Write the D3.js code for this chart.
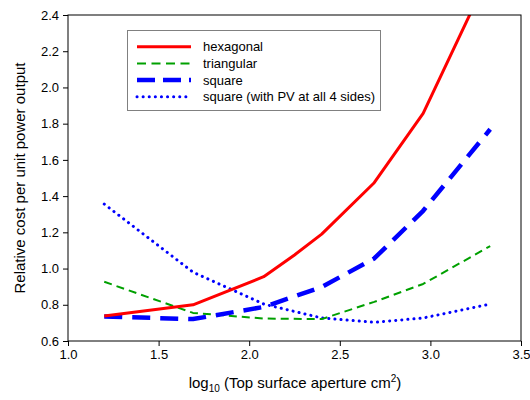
<!DOCTYPE html>
<html><head><meta charset="utf-8">
<script src="https://cdn.jsdelivr.net/npm/d3@7"></script>
<style>body{margin:0;background:#fff}svg{display:block}text{font-family:"Liberation Sans",Arial,sans-serif}</style>
</head><body><svg id="c" width="530" height="400"></svg>
<script>
const xValues = [1.2, 1.69, 2.08, 2.4, 2.69, 2.96, 3.33];
const hexX = [1.2, 1.69, 2.08, 2.25, 2.4, 2.69, 2.96, 3.33];
const hexagonal = [0.738, 0.80, 0.955, 1.075, 1.19, 1.474, 1.857, 2.64];
const triangular = [0.927, 0.755, 0.724, 0.721, 0.816, 0.915, 1.124];
const square = [0.735, 0.721, 0.788, 0.898, 1.056, 1.319, 1.769];
const squarePV = [1.356, 0.98, 0.804, 0.727, 0.703, 0.727, 0.804];
const xTicks = [1.0, 1.5, 2.0, 2.5, 3.0, 3.5];
const yTicks = [0.6, 0.8, 1.0, 1.2, 1.4, 1.6, 1.8, 2.0, 2.2, 2.4];
const legendLabels = ["hexagonal", "triangular", "square", "square (with PV at all 4 sides)"];

const svg = d3.select("#c");
const L = 68, R = 521, T = 15, B = 341;
const x = d3.scaleLinear().domain([1.0, 3.5]).range([L, R]);
const y = d3.scaleLinear().domain([0.6, 2.4]).range([B, T]);

svg.append("defs").append("clipPath").attr("id", "clip")
  .append("rect").attr("x", L).attr("y", T).attr("width", R - L).attr("height", B - T);

const styles = [
  {color: "#ff0000", width: 3, dash: null},
  {color: "#00a000", width: 2, dash: "8,5"},
  {color: "#0000ff", width: 4.5, dash: "18,10"},
  {color: "#0000ff", width: 3, dash: "0.1,6", cap: "round"}
];
const series = [
  hexX.map((v, i) => [v, hexagonal[i]]),
  xValues.map((v, i) => [v, triangular[i]]),
  xValues.map((v, i) => [v, square[i]]),
  xValues.map((v, i) => [v, squarePV[i]])
];
const line = d3.line().x(d => x(d[0])).y(d => y(d[1]));
const g = svg.append("g").attr("clip-path", "url(#clip)");
[3, 1, 2, 0].forEach(i => {
  const s = styles[i];
  g.append("path").attr("d", line(series[i])).attr("fill", "none")
    .attr("stroke", s.color).attr("stroke-width", s.width)
    .attr("stroke-dasharray", s.dash).attr("stroke-linecap", s.cap || "butt")
    .attr("stroke-linejoin", "round");
});

// axes
const xa = svg.append("g").attr("transform", `translate(0,${B})`)
  .call(d3.axisBottom(x).tickValues(xTicks).tickFormat(d3.format(".1f")).tickSize(5).tickPadding(4));
const ya = svg.append("g").attr("transform", `translate(${L},0)`)
  .call(d3.axisLeft(y).tickValues(yTicks).tickFormat(d3.format(".1f")).tickSize(5).tickPadding(4));
[xa, ya].forEach(a => {
  a.select(".domain").remove();
  a.selectAll("text").attr("font-size", 13).attr("fill", "#000").attr("font-family", "Liberation Sans, Arial, sans-serif");
  a.selectAll("line").attr("stroke", "#000");
});
svg.append("rect").attr("x", L).attr("y", T).attr("width", R - L).attr("height", B - T)
  .attr("fill", "none").attr("stroke", "#000").attr("stroke-width", 1);

// legend
const lg = svg.append("g");
lg.append("rect").attr("x", 127.5).attr("y", 30.5).attr("width", 253).attr("height", 80)
  .attr("fill", "#fff").attr("stroke", "#808080").attr("stroke-width", 1);
legendLabels.forEach((lab, i) => {
  const yy = 46.7 + i * 16.7, s = styles[i];
  lg.append("line").attr("x1", 137).attr("x2", 191).attr("y1", yy).attr("y2", yy)
    .attr("stroke", s.color).attr("stroke-width", s.width)
    .attr("stroke-dasharray", i === 1 ? "9,5.5" : (i === 2 ? "18,8" : s.dash))
    .attr("stroke-linecap", s.cap || "butt");
  lg.append("text").attr("x", 203).attr("y", yy + 4.5).attr("font-size", 13).text(lab);
});

// axis titles
svg.append("text").attr("transform", "translate(25,178) rotate(-90)").attr("text-anchor", "middle")
  .attr("font-size", 15).text("Relative cost per unit power output");
const xt = svg.append("text").attr("x", 295).attr("y", 388).attr("text-anchor", "middle").attr("font-size", 15);
xt.append("tspan").text("log");
xt.append("tspan").attr("font-size", 10).attr("dy", 4).text("10");
xt.append("tspan").attr("dy", -4).text(" (Top surface aperture cm");
xt.append("tspan").attr("font-size", 10).attr("dy", -6).text("2");
xt.append("tspan").attr("dy", 6).text(")");
</script></body></html>
